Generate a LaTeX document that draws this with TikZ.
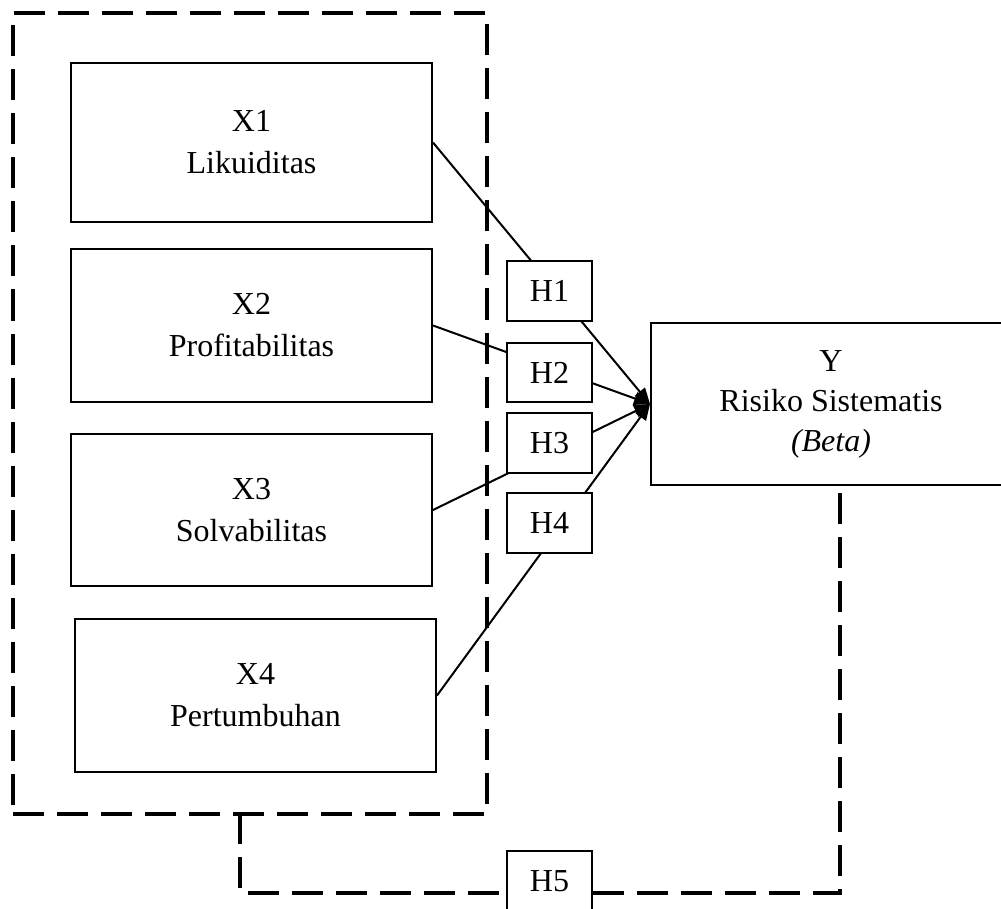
\documentclass[tikz,border=0pt]{standalone}
\usepackage{fontspec}
\setmainfont{Liberation Serif}
\usetikzlibrary{arrows.meta}
\tikzset{
  box/.style={draw, line width=2pt, fill=white, align=center, inner sep=0pt,
    font=\fontsize{32}{42}\selectfont},
  hbox/.style={box, minimum width=85pt, minimum height=60pt},
  xbox/.style={box, minimum width=361pt, minimum height=155pt},
  grpline/.style={line width=4pt, dash pattern=on 31pt off 13pt},
  conn/.style={line width=2pt, -{Triangle[length=16pt,width=13pt]}}
}
\begin{document}
\begin{tikzpicture}[x=1pt,y=-1pt]
\clip (0,0) rectangle (1001,909);
% outer dashed group
\node[draw, grpline, minimum width=474pt, minimum height=800pt, inner sep=0pt] (grp) at (250,413.5) {};
% X boxes
\node[xbox, minimum height=159pt] (x1) at (251.5,142.5) {X1\\Likuiditas};
\node[xbox, minimum height=153pt] (x2) at (251.5,325.5) {X2\\Profitabilitas};
\node[xbox, minimum height=152pt] (x3) at (251.5,510) {X3\\Solvabilitas};
\node[xbox, minimum height=153pt] (x4) at (255.5,695.5) {X4\\Pertumbuhan};
% Y box
\node[box, font=\fontsize{32}{40}\selectfont, minimum width=360pt, minimum height=162pt] (y) at (831,404) {Y\\Risiko Sistematis\\\textit{(Beta)}};
% connectors
\draw[conn] (x1.east) -- (y.west);
\draw[conn] (x2.east) -- (y.west);
\draw[conn] (x3.east) -- (y.west);
\draw[conn] (x4.east) -- (y.west);
% H boxes
\node[hbox] (h1) at (549.5,291) {H1};
\node[hbox, minimum height=59pt] (h2) at (549.5,372.5) {H2};
\node[hbox] (h3) at (549.5,443) {H3};
\node[hbox] (h4) at (549.5,523) {H4};
\node[hbox] (h5) at (549.5,881) {H5};
% H5 dashed connector
\coordinate (c1) at (240,813);
\coordinate (c2) at (240,893);
\coordinate (c3) at (840,893);
\coordinate (c4) at (840,485);
\draw[grpline] (c1) -- (c2) -- (c2 -| h5.west);
\draw[grpline] (c3 -| h5.east) -- (c3) -- (c4);
\end{tikzpicture}
\end{document}
